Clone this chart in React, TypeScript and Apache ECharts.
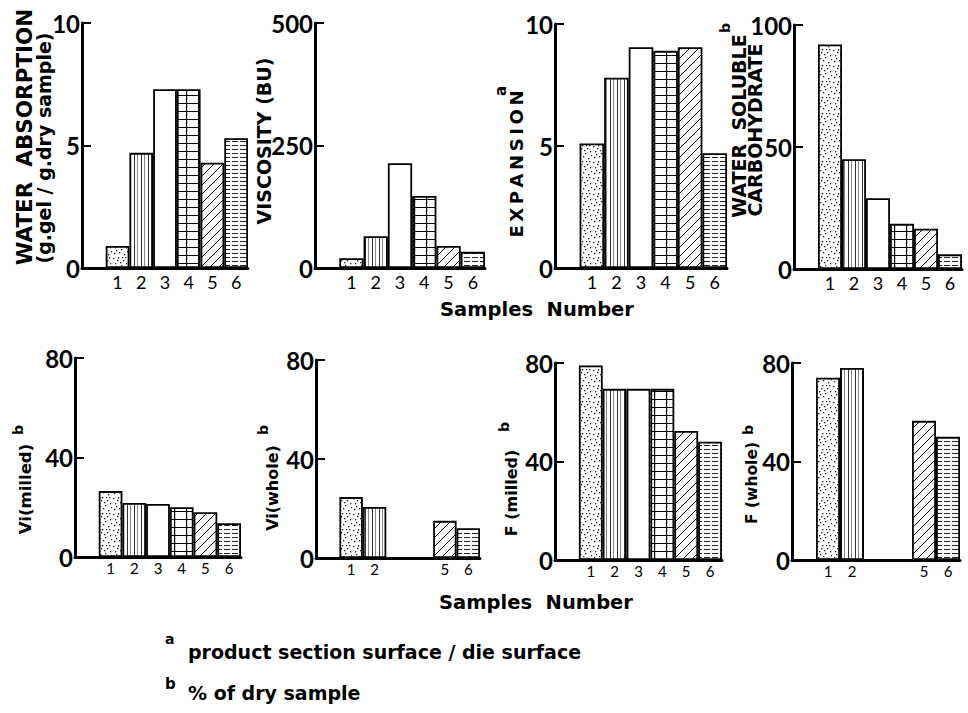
import React, { useEffect, useRef } from 'react';
import * as echarts from 'echarts';

// ---------- data ----------
const sampleLabels = ['', '1', '2', '3', '4', '5', '6'];
const waterAbsorption = [0.9, 4.7, 7.3, 7.3, 4.3, 5.3];
const viscosity = [20, 65, 214, 147, 45, 33];
const expansion = [5.1, 7.8, 9.05, 8.9, 9.05, 4.7];
const waterSolubleCarb = [92, 45, 29, 18.5, 16.5, 6];
const viMilled = [26.5, 21.7, 21.3, 20, 18, 13.6];
const viWhole = [24.6, 20.6, null, null, 15, 12];
const fMilled = [79, 69.5, 69.5, 69.5, 52.4, 48];
const fWhole = [74, 78, null, null, 56.5, 50];
const axisMax = [10, 500, 10, 100, 80, 80, 80, 80];

const NUM_FONT = 'Lato, Open Sans, sans-serif';
const TITLE_FONT = 'DejaVu Sans, Open Sans, sans-serif';

function tile(w: number, h: number, draw: (ctx: CanvasRenderingContext2D) => void) {
  const c = document.createElement('canvas');
  c.width = w;
  c.height = h;
  const ctx = c.getContext('2d') as CanvasRenderingContext2D;
  ctx.fillStyle = '#fff';
  ctx.fillRect(0, 0, w, h);
  draw(ctx);
  return c;
}

function makePatterns(): any[] {
  const dots = tile(16, 16, (ctx) => {
    ctx.fillStyle = '#222';
    const pts = [[1, 2], [6, 1], [11, 4], [3, 7], [9, 9], [14, 7], [2, 13], [7, 12], [12, 14], [5, 4], [15, 11], [10, 1], [8, 6], [13, 1], [4, 10]];
    pts.forEach(([x, y]) => ctx.fillRect(x, y, 1.3, 1.3));
  });
  const vlines = tile(7, 4, (ctx) => {
    ctx.fillStyle = '#333';
    ctx.fillRect(1, 0, 1, 4);
    ctx.fillStyle = '#888';
    ctx.fillRect(4, 0, 1, 4);
  });
  const grid = tile(12, 8, (ctx) => {
    ctx.fillStyle = '#000';
    ctx.fillRect(0, 7, 12, 1.2);
    ctx.fillRect(6, 0, 1.2, 8);
  });
  const hatch = tile(9, 9, (ctx) => {
    ctx.strokeStyle = '#000';
    ctx.lineWidth = 1;
    ctx.beginPath();
    ctx.moveTo(0, 9); ctx.lineTo(9, 0);
    ctx.moveTo(-1, 1); ctx.lineTo(1, -1);
    ctx.moveTo(8, 10); ctx.lineTo(10, 8);
    ctx.stroke();
  });
  const hlines = tile(8, 4, (ctx) => {
    ctx.fillStyle = '#222';
    ctx.fillRect(0, 1, 6, 1);
  });
  return [
    { image: dots, repeat: 'repeat' },
    { image: vlines, repeat: 'repeat' },
    '#ffffff',
    { image: grid, repeat: 'repeat' },
    { image: hatch, repeat: 'repeat' },
    { image: hlines, repeat: 'repeat' },
  ];
}

const panelValues = [waterAbsorption, viscosity, expansion, waterSolubleCarb, viMilled, viWhole, fMilled, fWhole];

const layouts = [
  { left: 82, top: 23, width: 166, height: 245, lbl: 18, lm: 5 },
  { left: 315, top: 23, width: 170, height: 245, lbl: 18, lm: 5 },
  { left: 555, top: 24, width: 172, height: 244, lbl: 18, lm: 5 },
  { left: 794, top: 25, width: 168, height: 244, lbl: 18, lm: 5 },
  { left: 75, top: 358, width: 166, height: 199, lbl: 15, lm: 3 },
  { left: 316, top: 360, width: 164, height: 198, lbl: 15, lm: 3 },
  { left: 555, top: 363, width: 167, height: 197, lbl: 15, lm: 3 },
  { left: 792, top: 363, width: 168, height: 197, lbl: 15, lm: 3 },
];

const textStyle = (text: string, size: number, align: string) => ({
  text,
  fontSize: size,
  fontWeight: 'bold',
  fontFamily: TITLE_FONT,
  fill: '#000',
  align,
  verticalAlign: 'middle',
});

const vText = (text: string, x: number, y: number, size: number) => ({
  type: 'text',
  x,
  y,
  rotation: Math.PI / 2,
  style: textStyle(text, size, 'center'),
});

const hText = (text: string, x: number, y: number, size: number, align = 'left') => ({
  type: 'text',
  x,
  y,
  style: textStyle(text, size, align),
});

const TS = '\u2009';
const spaced = (s: string) => s.split('').join(TS);

export default function App() {
  const ref = useRef<HTMLDivElement>(null);

  useEffect(() => {
    if (!ref.current) return;
    const chart = echarts.init(ref.current, undefined, { renderer: 'svg' });
    const patterns = makePatterns();

    const option: any = {
      animation: false,
      backgroundColor: '#ffffff',
      grid: layouts.map((l) => ({
        left: l.left,
        top: l.top,
        width: l.width,
        height: l.height,
        containLabel: false,
        outerBoundsMode: 'none',
      })),
      xAxis: layouts.map((l, i) => ({
        gridIndex: i,
        type: 'category',
        data: sampleLabels,
        axisLine: { show: true, lineStyle: { color: '#000', width: 3 } },
        axisTick: { show: false },
        splitLine: { show: false },
        axisLabel: {
          interval: 0,
          margin: l.lm,
          fontSize: l.lbl,
          fontFamily: NUM_FONT,
          color: '#000',
          formatter: (val: string, idx: number) =>
            idx === 0 || panelValues[i][idx - 1] == null ? '' : val,
        },
      })),
      yAxis: layouts.map((l, i) => ({
        gridIndex: i,
        type: 'value',
        min: 0,
        max: axisMax[i],
        interval: axisMax[i] / 2,
        axisLine: { show: true, lineStyle: { color: '#000', width: 3 } },
        axisTick: { show: true, inside: true, length: 9, lineStyle: { color: '#000', width: 2 } },
        splitLine: { show: false },
        axisLabel: {
          margin: 2,
          fontSize: 24,
          fontWeight: 'bold',
          fontFamily: NUM_FONT,
          color: '#000',
        },
      })),
      series: panelValues.map((vals, i) => ({
        type: 'bar',
        xAxisIndex: i,
        yAxisIndex: i,
        barCategoryGap: '0%',
        barGap: '0%',
        silent: true,
        itemStyle: { borderColor: '#000', borderWidth: 1.8 },
        data: [null, ...vals.map((v, k) =>
          v == null ? null : { value: v, itemStyle: { color: patterns[k], borderColor: '#000', borderWidth: 1.8 } }
        )],
      })),
      graphic: [
        vText('WATER  ABSORPTION', 24, 137, 21.5),
        vText('(g.gel / g.dry sample)', 44, 148, 19),
        vText('VISCOSITY (BU)', 264, 141, 19),
        vText(spaced('EXPANSION'), 516, 164, 18),
        vText('a', 501, 91, 15),
        vText('WATER  SOLUBLE', 739, 126, 19),
        vText('CARBOHYDRATE', 755, 130, 19),
        vText('b', 725, 28, 14),
        vText('Vi(milled)', 25, 489, 16.5),
        vText('b', 18, 430, 14),
        vText('Vi(whole)', 272, 488, 16),
        vText('b', 263, 430, 14),
        vText('F (milled)', 511, 493, 16),
        vText('b', 504, 427, 14),
        vText('F (whole)', 752, 483, 15.5),
        vText('b', 748, 430, 14),
        hText('Samples  Number', 537, 309, 19.5, 'center'),
        hText('Samples  Number', 536, 602, 19.5, 'center'),
        hText('a', 165, 639, 14),
        hText('product section surface / die surface', 188, 652, 19),
        hText('b', 165, 684, 15),
        hText('% of dry sample', 188, 693, 19),
      ],
    };

    chart.setOption(option);
    return () => chart.dispose();
  }, []);

  return (
    <div
      ref={ref}
      style={{ position: 'fixed', left: 0, top: 0, width: '968px', height: '713px', background: '#fff' }}
    />
  );
}
